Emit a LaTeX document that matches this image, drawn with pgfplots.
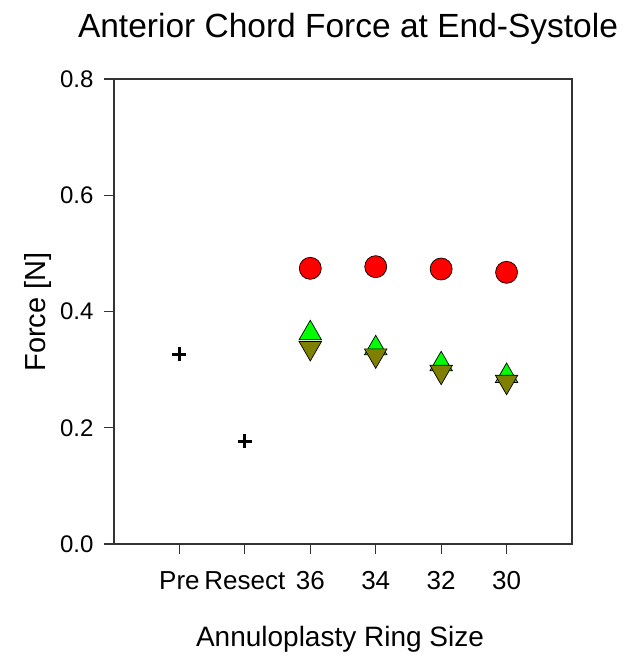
\documentclass[border=0pt]{standalone}
\usepackage{pgfplots}
\pgfplotsset{compat=1.18}
\usepackage{fontspec}
\setmainfont{Liberation Sans}
\definecolor{cred}{HTML}{FF0000}
\definecolor{cgreen}{HTML}{00FF00}
\definecolor{colive}{HTML}{808000}
\begin{document}
\begin{tikzpicture}
\path[use as bounding box] (0,0) rectangle (640pt,660pt);
\begin{axis}[
  at={(114pt,116pt)}, anchor=south west,
  scale only axis, width=458pt, height=465pt,
  xmin=-1, xmax=6, ymin=0, ymax=0.8,
  xtick={0,1,2,3,4,5},
  xticklabels={Pre,Resect,36,34,32,30},
  ytick={0,0.2,0.4,0.6,0.8},
  tick align=outside, tick pos=left,
  major tick length=10pt,
  axis line style={black!80, line width=1.1pt},
  every tick/.style={black!80, line width=1.1pt},
  /pgf/number format/assume math mode=true,
  yticklabel style={font=\fontsize{24}{28}\selectfont, xshift=-7pt, /pgf/number format/fixed, /pgf/number format/fixed zerofill, /pgf/number format/precision=1},
  xticklabel style={font=\fontsize{26}{30}\selectfont, yshift=-14pt},
  clip=false,
]
\addplot[only marks, mark=*, mark size=11pt, mark options={fill=cred, draw=black, line width=0.7pt}] coordinates {
  (2,0.4743) (3,0.4771) (4,0.4731) (5,0.4674)
};
\addplot[only marks, mark=triangle*, mark size=13pt, mark options={fill=cgreen, draw=black, line width=0.7pt}] coordinates {
  (2,0.3625) (3,0.3367) (4,0.3092) (5,0.2890)
};
\addplot[only marks, mark=triangle*, mark size=13pt, mark options={fill=colive, draw=black, line width=0.7pt, rotate=180}] coordinates {
  (2,0.3372) (3,0.3245) (4,0.2964) (5,0.2792)
};
\addplot[only marks, mark=+, mark size=7pt, mark options={draw=black, line width=3pt}] coordinates {
  (0,0.3264) (1,0.1772)
};
\end{axis}
\node[anchor=base, font=\fontsize{33.5}{38}\selectfont] at (348pt,622pt) {Anterior Chord Force at End-Systole};
\node[anchor=base, font=\fontsize{28}{32}\selectfont] at (340pt,13pt) {Annuloplasty Ring Size};
\node[anchor=base, rotate=90, font=\fontsize{29}{33}\selectfont] at (45pt,348pt) {Force [N]};
\end{tikzpicture}
\end{document}
